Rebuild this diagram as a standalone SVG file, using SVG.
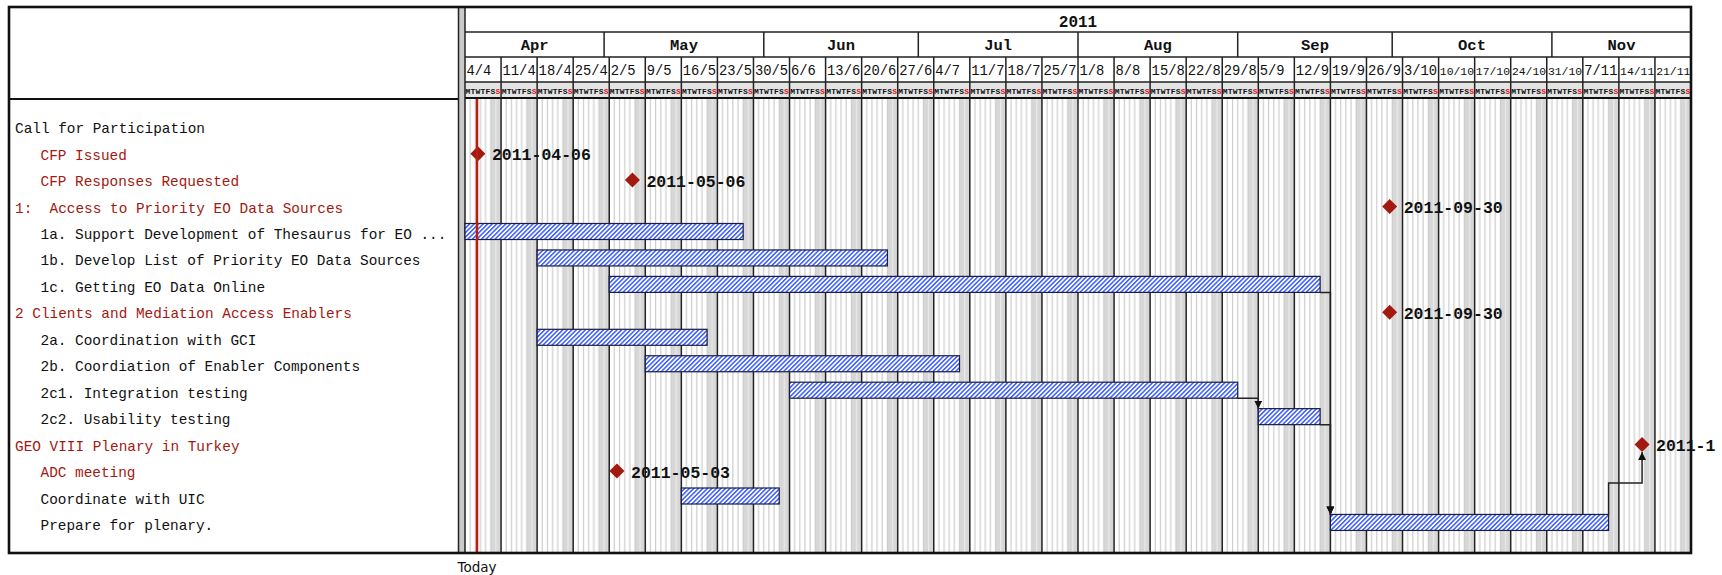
<svg xmlns="http://www.w3.org/2000/svg" width="1722" height="575" viewBox="0 0 1722 575">
<style>
.t{font-family:"Liberation Mono","DejaVu Sans Mono",monospace;font-size:14.4px;fill:#111;white-space:pre}
.r{fill:#a3180f}
.ms{font-family:"Liberation Mono","DejaVu Sans Mono",monospace;font-weight:bold;font-size:16.5px;fill:#111}
.wk{font-family:"Liberation Mono","DejaVu Sans Mono",monospace;font-size:13.8px;fill:#111}
.w5{font-size:11.4px}
.mo{font-family:"Liberation Mono","DejaVu Sans Mono",monospace;font-weight:bold;font-size:15.5px;fill:#111;text-anchor:middle}
.dy{font-family:"Liberation Mono","DejaVu Sans Mono",monospace;font-weight:bold;font-size:8px;fill:#111}
.su{fill:#e81010}
.bar{fill:url(#hatch);stroke:#1c1c3c;stroke-width:1.2}
.dia{fill:#a3180f}
.dep{fill:none;stroke:#222;stroke-width:1.5}
.hl{stroke:#222;stroke-width:1.5;fill:none}
</style>
<defs>
<pattern id="hatch" width="3.2" height="3.2" patternUnits="userSpaceOnUse" patternTransform="rotate(45)">
<rect width="3.2" height="3.2" fill="#fff"/>
<rect width="1.5" height="3.2" fill="#3a5cff"/>
</pattern>
<pattern id="days" x="465" y="0" width="36.0588" height="20" patternUnits="userSpaceOnUse">
<rect width="36.0588" height="20" fill="#fff"/>
<rect x="25.757" width="10.302" height="20" fill="#d7d7d7"/>
<path d="M5.151,0V20M10.303,0V20M15.454,0V20M20.605,0V20M25.757,0V20" stroke="#cdcdcd" stroke-width="1.2"/>
<path d="M30.908,0V20" stroke="#ebebeb" stroke-width="1.2"/>
</pattern>
<path id="dm" d="M0,-7.5L7.5,0L0,7.5L-7.5,0Z"/>
<marker id="arr" viewBox="0 0 10 10" refX="10" refY="5" markerWidth="8" markerHeight="8" markerUnits="userSpaceOnUse" orient="auto">
<path d="M0,0L10,5L0,10Z" fill="#111"/>
</marker>
</defs>

<rect width="1722" height="575" fill="#fff"/>

<g id="chart-background">
<rect x="465" y="99" width="1226" height="454" fill="url(#days)"/>
<rect x="465" y="82" width="1226" height="16" fill="#e4e4e4"/>
<rect x="459" y="7" width="6" height="546" fill="#c9c9c9"/>
<path class="hl" d="M458.5,7V553M465,7V553"/>
<path class="hl" d="M465,32H1691M465,57H1691M465,82H1691"/>
<path d="M9,99H458M465,98H1691" stroke="#111" stroke-width="2.2"/>
<path class="hl" d="M604.1,32V57M763.8,32V57M918.3,32V57M1078,32V57M1237.7,32V57M1392.2,32V57M1551.9,32V57"/>
<path class="hl" d="M501.06,57V553M537.12,57V553M573.18,57V553M609.24,57V553M645.29,57V553M681.35,57V553M717.41,57V553M753.47,57V553M789.53,57V553M825.59,57V553M861.65,57V553M897.71,57V553M933.76,57V553M969.82,57V553M1005.88,57V553M1041.94,57V553M1078,57V553M1114.06,57V553M1150.12,57V553M1186.18,57V553M1222.24,57V553M1258.29,57V553M1294.35,57V553M1330.41,57V553M1366.47,57V553M1402.53,57V553M1438.59,57V553M1474.65,57V553M1510.71,57V553M1546.76,57V553M1582.82,57V553M1618.88,57V553M1654.94,57V553"/>
</g>

<g id="header-year"><text class="mo" x="1078" y="26.5" style="font-size:16px">2011</text></g>
<g id="header-months">
<text class="mo" x="534.6" y="50">Apr</text>
<text class="mo" x="684" y="50">May</text>
<text class="mo" x="841" y="50">Jun</text>
<text class="mo" x="998.2" y="50">Jul</text>
<text class="mo" x="1157.9" y="50">Aug</text>
<text class="mo" x="1315" y="50">Sep</text>
<text class="mo" x="1472" y="50">Oct</text>
<text class="mo" x="1621.5" y="50">Nov</text>
</g>
<g id="header-weeks">
<text class="wk" x="466.5" y="75">4/4</text>
<text class="wk" x="502.56" y="75">11/4</text>
<text class="wk" x="538.62" y="75">18/4</text>
<text class="wk" x="574.68" y="75">25/4</text>
<text class="wk" x="610.74" y="75">2/5</text>
<text class="wk" x="646.79" y="75">9/5</text>
<text class="wk" x="682.85" y="75">16/5</text>
<text class="wk" x="718.91" y="75">23/5</text>
<text class="wk" x="754.97" y="75">30/5</text>
<text class="wk" x="791.03" y="75">6/6</text>
<text class="wk" x="827.09" y="75">13/6</text>
<text class="wk" x="863.15" y="75">20/6</text>
<text class="wk" x="899.21" y="75">27/6</text>
<text class="wk" x="935.26" y="75">4/7</text>
<text class="wk" x="971.32" y="75">11/7</text>
<text class="wk" x="1007.38" y="75">18/7</text>
<text class="wk" x="1043.44" y="75">25/7</text>
<text class="wk" x="1079.5" y="75">1/8</text>
<text class="wk" x="1115.56" y="75">8/8</text>
<text class="wk" x="1151.62" y="75">15/8</text>
<text class="wk" x="1187.68" y="75">22/8</text>
<text class="wk" x="1223.74" y="75">29/8</text>
<text class="wk" x="1259.79" y="75">5/9</text>
<text class="wk" x="1295.85" y="75">12/9</text>
<text class="wk" x="1331.91" y="75">19/9</text>
<text class="wk" x="1367.97" y="75">26/9</text>
<text class="wk" x="1404.03" y="75">3/10</text>
<text class="wk w5" x="1439.8" y="75">10/10</text>
<text class="wk w5" x="1475.85" y="75">17/10</text>
<text class="wk w5" x="1511.9" y="75">24/10</text>
<text class="wk w5" x="1547.95" y="75">31/10</text>
<text class="wk" x="1584.32" y="75">7/11</text>
<text class="wk w5" x="1620.1" y="75">14/11</text>
<text class="wk w5" x="1656.15" y="75">21/11</text>
</g>
<g id="header-days">
<text class="dy" x="465.6" y="94" textLength="34.8" lengthAdjust="spacing">MTWTFS<tspan class="su">S</tspan></text>
<text class="dy" x="501.66" y="94" textLength="34.8" lengthAdjust="spacing">MTWTFS<tspan class="su">S</tspan></text>
<text class="dy" x="537.72" y="94" textLength="34.8" lengthAdjust="spacing">MTWTFS<tspan class="su">S</tspan></text>
<text class="dy" x="573.78" y="94" textLength="34.8" lengthAdjust="spacing">MTWTFS<tspan class="su">S</tspan></text>
<text class="dy" x="609.84" y="94" textLength="34.8" lengthAdjust="spacing">MTWTFS<tspan class="su">S</tspan></text>
<text class="dy" x="645.89" y="94" textLength="34.8" lengthAdjust="spacing">MTWTFS<tspan class="su">S</tspan></text>
<text class="dy" x="681.95" y="94" textLength="34.8" lengthAdjust="spacing">MTWTFS<tspan class="su">S</tspan></text>
<text class="dy" x="718.01" y="94" textLength="34.8" lengthAdjust="spacing">MTWTFS<tspan class="su">S</tspan></text>
<text class="dy" x="754.07" y="94" textLength="34.8" lengthAdjust="spacing">MTWTFS<tspan class="su">S</tspan></text>
<text class="dy" x="790.13" y="94" textLength="34.8" lengthAdjust="spacing">MTWTFS<tspan class="su">S</tspan></text>
<text class="dy" x="826.19" y="94" textLength="34.8" lengthAdjust="spacing">MTWTFS<tspan class="su">S</tspan></text>
<text class="dy" x="862.25" y="94" textLength="34.8" lengthAdjust="spacing">MTWTFS<tspan class="su">S</tspan></text>
<text class="dy" x="898.31" y="94" textLength="34.8" lengthAdjust="spacing">MTWTFS<tspan class="su">S</tspan></text>
<text class="dy" x="934.36" y="94" textLength="34.8" lengthAdjust="spacing">MTWTFS<tspan class="su">S</tspan></text>
<text class="dy" x="970.42" y="94" textLength="34.8" lengthAdjust="spacing">MTWTFS<tspan class="su">S</tspan></text>
<text class="dy" x="1006.48" y="94" textLength="34.8" lengthAdjust="spacing">MTWTFS<tspan class="su">S</tspan></text>
<text class="dy" x="1042.54" y="94" textLength="34.8" lengthAdjust="spacing">MTWTFS<tspan class="su">S</tspan></text>
<text class="dy" x="1078.6" y="94" textLength="34.8" lengthAdjust="spacing">MTWTFS<tspan class="su">S</tspan></text>
<text class="dy" x="1114.66" y="94" textLength="34.8" lengthAdjust="spacing">MTWTFS<tspan class="su">S</tspan></text>
<text class="dy" x="1150.72" y="94" textLength="34.8" lengthAdjust="spacing">MTWTFS<tspan class="su">S</tspan></text>
<text class="dy" x="1186.78" y="94" textLength="34.8" lengthAdjust="spacing">MTWTFS<tspan class="su">S</tspan></text>
<text class="dy" x="1222.84" y="94" textLength="34.8" lengthAdjust="spacing">MTWTFS<tspan class="su">S</tspan></text>
<text class="dy" x="1258.89" y="94" textLength="34.8" lengthAdjust="spacing">MTWTFS<tspan class="su">S</tspan></text>
<text class="dy" x="1294.95" y="94" textLength="34.8" lengthAdjust="spacing">MTWTFS<tspan class="su">S</tspan></text>
<text class="dy" x="1331.01" y="94" textLength="34.8" lengthAdjust="spacing">MTWTFS<tspan class="su">S</tspan></text>
<text class="dy" x="1367.07" y="94" textLength="34.8" lengthAdjust="spacing">MTWTFS<tspan class="su">S</tspan></text>
<text class="dy" x="1403.13" y="94" textLength="34.8" lengthAdjust="spacing">MTWTFS<tspan class="su">S</tspan></text>
<text class="dy" x="1439.19" y="94" textLength="34.8" lengthAdjust="spacing">MTWTFS<tspan class="su">S</tspan></text>
<text class="dy" x="1475.25" y="94" textLength="34.8" lengthAdjust="spacing">MTWTFS<tspan class="su">S</tspan></text>
<text class="dy" x="1511.31" y="94" textLength="34.8" lengthAdjust="spacing">MTWTFS<tspan class="su">S</tspan></text>
<text class="dy" x="1547.36" y="94" textLength="34.8" lengthAdjust="spacing">MTWTFS<tspan class="su">S</tspan></text>
<text class="dy" x="1583.42" y="94" textLength="34.8" lengthAdjust="spacing">MTWTFS<tspan class="su">S</tspan></text>
<text class="dy" x="1619.48" y="94" textLength="34.8" lengthAdjust="spacing">MTWTFS<tspan class="su">S</tspan></text>
<text class="dy" x="1655.54" y="94" textLength="34.8" lengthAdjust="spacing">MTWTFS<tspan class="su">S</tspan></text>
</g>

<g id="row-call-for-participation"><text class="t" x="15" y="133.2">Call for Participation</text></g>
<g id="row-cfp-issued">
<text class="t r" x="40.5" y="159.6">CFP Issued</text>
<use href="#dm" class="dia" x="477.88" y="153.65"/>
<text class="ms" x="491.9" y="160">2011-04-06</text>
</g>
<g id="row-cfp-responses">
<text class="t r" x="40.5" y="186.1">CFP Responses Requested</text>
<use href="#dm" class="dia" x="632.42" y="180.1"/>
<text class="ms" x="646.4" y="186.5">2011-05-06</text>
</g>
<g id="row-1-access">
<text class="t r" x="15" y="212.5" xml:space="preserve">1:  Access to Priority EO Data Sources</text>
<use href="#dm" class="dia" x="1389.66" y="206.55"/>
<text class="ms" x="1403.7" y="213">2011-09-30</text>
</g>
<g id="row-1a">
<text class="t" x="40.5" y="239">1a. Support Development of Thesaurus for EO ...</text>
<rect class="bar" x="465" y="223.5" width="278.17" height="16"/>
</g>
<g id="row-1b">
<text class="t" x="40.5" y="265.4">1b. Develop List of Priority EO Data Sources</text>
<rect class="bar" x="537.12" y="249.95" width="350.29" height="16"/>
</g>
<g id="row-1c">
<text class="t" x="40.5" y="291.9">1c. Getting EO Data Online</text>
<rect class="bar" x="609.24" y="276.4" width="710.88" height="16"/>
</g>
<g id="row-2-clients">
<text class="t r" x="15" y="318.35">2 Clients and Mediation Access Enablers</text>
<use href="#dm" class="dia" x="1389.66" y="312.35"/>
<text class="ms" x="1403.7" y="318.8">2011-09-30</text>
</g>
<g id="row-2a">
<text class="t" x="40.5" y="344.8">2a. Coordination with GCI</text>
<rect class="bar" x="537.12" y="329.3" width="169.99" height="16"/>
</g>
<g id="row-2b">
<text class="t" x="40.5" y="371.25">2b. Coordiation of Enabler Components</text>
<rect class="bar" x="645.29" y="355.75" width="314.23" height="16"/>
</g>
<g id="row-2c1">
<text class="t" x="40.5" y="397.7">2c1. Integration testing</text>
<rect class="bar" x="789.53" y="382.2" width="448.17" height="16"/>
</g>
<g id="row-2c2">
<text class="t" x="40.5" y="424.15">2c2. Usability testing</text>
<rect class="bar" x="1258.29" y="408.65" width="61.83" height="16"/>
</g>
<g id="row-geo-viii">
<text class="t r" x="15" y="450.6">GEO VIII Plenary in Turkey</text>
<use href="#dm" class="dia" x="1642.07" y="444.6"/>
<text class="ms" x="1656" y="451">2011-1</text>
</g>
<g id="row-adc-meeting">
<text class="t r" x="40.5" y="477.05">ADC meeting</text>
<use href="#dm" class="dia" x="616.96" y="471.05"/>
<text class="ms" x="631" y="477.5">2011-05-03</text>
</g>
<g id="row-coordinate-uic">
<text class="t" x="40.5" y="503.5">Coordinate with UIC</text>
<rect class="bar" x="681.35" y="488" width="97.88" height="16"/>
</g>
<g id="row-prepare-plenary">
<text class="t" x="40.5" y="529.95">Prepare for plenary.</text>
<rect class="bar" x="1330.41" y="514.45" width="278.18" height="16"/>
</g>

<g id="connectors">
<path class="dep" d="M1237.7,398.2H1258.29V408.65" marker-end="url(#arr)"/>
<path class="dep" d="M1320.12,292.4H1330.41V514.45" marker-end="url(#arr)"/>
<path class="dep" d="M1320.12,424.65H1330.41V514.45" marker-end="url(#arr)"/>
<path class="dep" d="M1608.59,514.45V483H1642.07V452.1" marker-end="url(#arr)"/>
</g>

<g id="today">
<line x1="477" y1="99" x2="477" y2="552" stroke="#b5200f" stroke-width="2.5"/>
<text x="457.5" y="572" style="font-family:'DejaVu Sans','Liberation Sans',sans-serif;font-size:13.5px;fill:#111">Today</text>
</g>

<rect id="frame" x="9" y="7" width="1682" height="546" fill="none" stroke="#111" stroke-width="2.6"/>
</svg>
